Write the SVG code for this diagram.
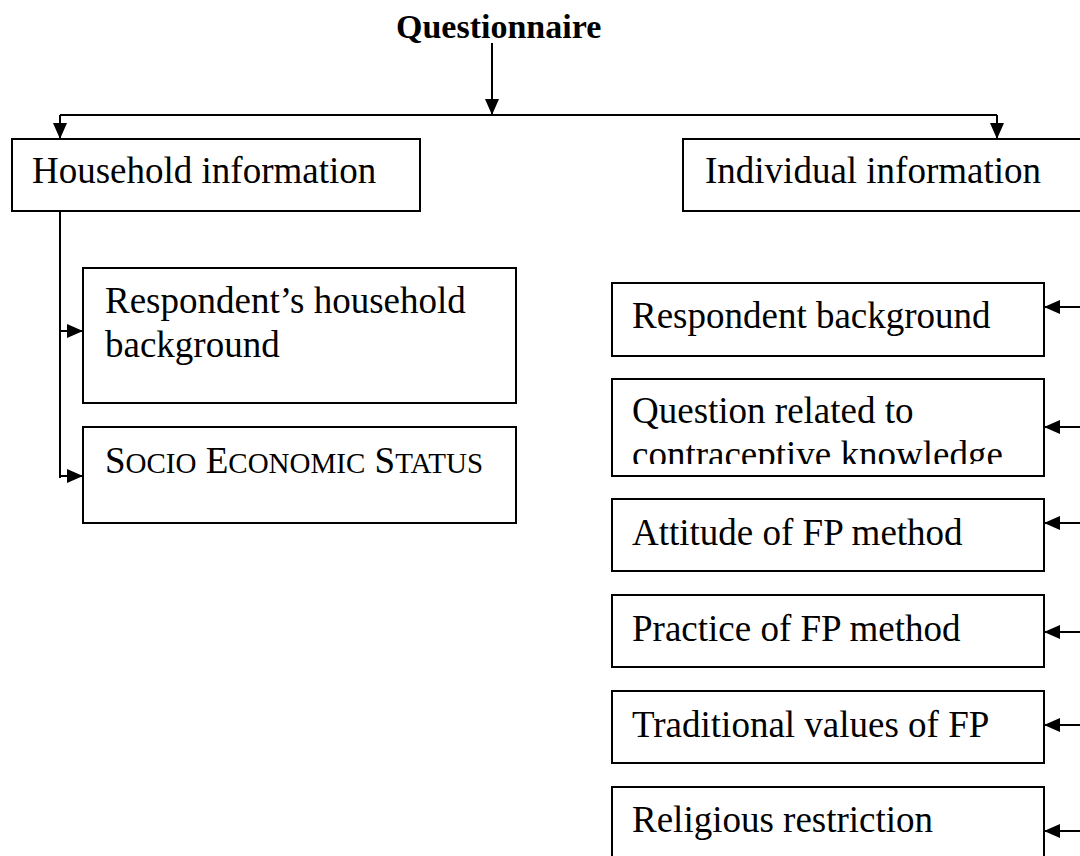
<svg xmlns="http://www.w3.org/2000/svg" width="1080" height="856" viewBox="0 0 1080 856">
<style>
.box{fill:#fff;stroke:#000;stroke-width:2}
.t{font-family:"Liberation Serif","Times New Roman",serif;font-size:37px;fill:#000}
.title{font-family:"Liberation Serif","Times New Roman",serif;font-size:34px;font-weight:bold;fill:#000}
.ln{fill:none;stroke:#000;stroke-width:2}
</style>
<defs>
<marker id="ah" markerUnits="userSpaceOnUse" markerWidth="16" markerHeight="14" viewBox="0 0 16 14" refX="16" refY="7" orient="auto">
<path d="M0,0 L16,7 L0,14 z" fill="#000"/>
</marker>
<clipPath id="qclip"><rect x="612" y="379" width="432" height="85"/></clipPath>
</defs>
<rect width="1080" height="856" fill="#fff"/>
<g id="connectors">
<path class="ln" d="M492,43 V115" marker-end="url(#ah)"/>
<path class="ln" d="M60,115 H997"/>
<path class="ln" d="M60,115 V139" marker-end="url(#ah)"/>
<path class="ln" d="M997,115 V139" marker-end="url(#ah)"/>
<path class="ln" d="M60,211 V478"/>
<path class="ln" d="M59,331 H83" marker-end="url(#ah)"/>
<path class="ln" d="M59,476 H83" marker-end="url(#ah)"/>
<path class="ln" d="M1082,307 H1044" marker-end="url(#ah)"/>
<path class="ln" d="M1082,427 H1044" marker-end="url(#ah)"/>
<path class="ln" d="M1082,523 H1044" marker-end="url(#ah)"/>
<path class="ln" d="M1082,632 H1044" marker-end="url(#ah)"/>
<path class="ln" d="M1082,725 H1044" marker-end="url(#ah)"/>
<path class="ln" d="M1082,831 H1044" marker-end="url(#ah)"/>
</g>
<g id="questionnaire">
<text class="title" x="396" y="38">Questionnaire</text>
</g>
<g id="household">
<rect class="box" x="12" y="139" width="408" height="72"/>
<text class="t" x="32" y="183">Household information</text>
</g>
<g id="individual">
<rect class="box" x="683" y="139" width="420" height="72"/>
<text class="t" x="705" y="183">Individual information</text>
</g>
<g id="resp-household">
<rect class="box" x="83" y="268" width="433" height="135"/>
<text class="t" x="105" y="313">Respondent’s household</text>
<text class="t" x="105" y="357">background</text>
</g>
<g id="ses">
<rect class="box" x="83" y="427" width="433" height="96"/>
<text class="t" x="105" y="473">S<tspan font-size="29">OCIO</tspan> E<tspan font-size="29">CONOMIC</tspan> S<tspan font-size="29">TATUS</tspan></text>
</g>
<g id="resp-background">
<rect class="box" x="612" y="283" width="432" height="73"/>
<text class="t" x="632" y="328">Respondent background</text>
</g>
<g id="contraceptive">
<rect class="box" x="612" y="379" width="432" height="97"/>
<g clip-path="url(#qclip)">
<text class="t" x="632" y="423">Question related to</text>
<text class="t" x="632" y="467">contraceptive knowledge</text>
</g>
</g>
<g id="attitude">
<rect class="box" x="612" y="499" width="432" height="72"/>
<text class="t" x="632" y="545">Attitude of FP method</text>
</g>
<g id="practice">
<rect class="box" x="612" y="595" width="432" height="72"/>
<text class="t" x="632" y="641">Practice of FP method</text>
</g>
<g id="traditional">
<rect class="box" x="612" y="691" width="432" height="72"/>
<text class="t" x="632" y="737">Traditional values of FP</text>
</g>
<g id="religious">
<rect class="box" x="612" y="787" width="432" height="90"/>
<text class="t" x="632" y="832">Religious restriction</text>
</g>
</svg>
